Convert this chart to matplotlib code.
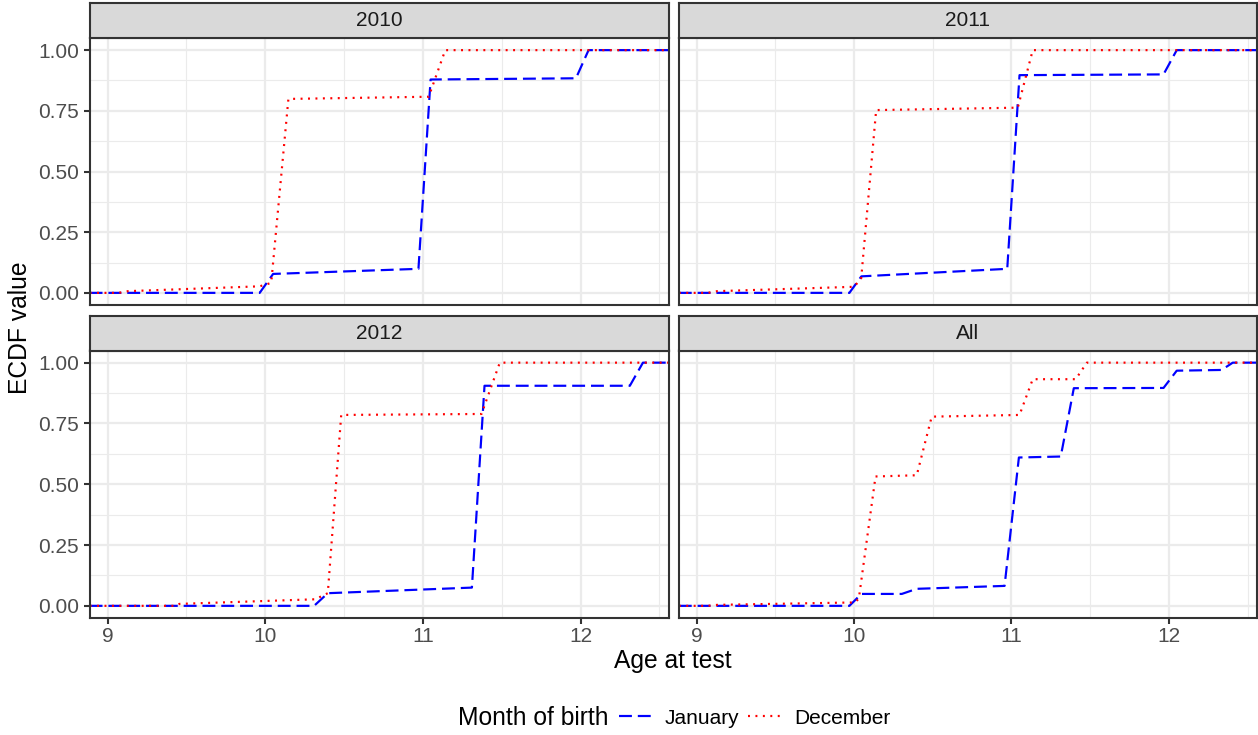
import matplotlib
matplotlib.use("Agg")
import matplotlib.pyplot as plt
from matplotlib.lines import Line2D
import numpy as np

# ---------------- data ----------------
panels = ["2010", "2011", "2012", "All"]
series_labels = ["January", "December"]

jan_x_2010 = [9.965, 10.050, 10.972, 11.049, 11.971, 12.051]
jan_y_2010 = [0.000, 0.078, 0.099, 0.879, 0.884, 1.000]
dec_x_2010 = [9.07, 9.13, 9.965, 10.038, 10.147, 11.037, 11.142]
dec_y_2010 = [0.000, 0.007, 0.027, 0.041, 0.799, 0.808, 1.000]

jan_x_2011 = [9.970, 10.046, 10.973, 11.051, 11.966, 12.050]
jan_y_2011 = [0.000, 0.068, 0.099, 0.897, 0.900, 1.000]
dec_x_2011 = [9.07, 9.13, 10.000, 10.045, 10.140, 11.040, 11.135]
dec_y_2011 = [0.000, 0.007, 0.025, 0.060, 0.753, 0.763, 1.000]

jan_x_2012 = [10.310, 10.397, 11.311, 11.391, 12.313, 12.396]
jan_y_2012 = [0.000, 0.052, 0.075, 0.905, 0.905, 1.000]
dec_x_2012 = [9.43, 9.456, 10.317, 10.397, 10.482, 11.372, 11.488]
dec_y_2012 = [0.000, 0.008, 0.027, 0.052, 0.785, 0.789, 1.000]

jan_x_all = [9.970, 10.046, 10.303, 10.398, 10.956, 11.047, 11.313, 11.396,
             11.966, 12.050, 12.335, 12.406]
jan_y_all = [0.000, 0.049, 0.049, 0.070, 0.082, 0.610, 0.614, 0.895,
             0.896, 0.967, 0.970, 1.000]
dec_x_all = [9.07, 9.13, 10.005, 10.030, 10.136, 10.398, 10.493, 11.051,
             11.135, 11.408, 11.479]
dec_y_all = [0.000, 0.004, 0.014, 0.030, 0.532, 0.537, 0.778, 0.785,
             0.932, 0.932, 1.000]

x_ticks = [9, 10, 11, 12]
y_ticks = [0.00, 0.25, 0.50, 0.75, 1.00]

data = {
    "2010": ((jan_x_2010, jan_y_2010), (dec_x_2010, dec_y_2010)),
    "2011": ((jan_x_2011, jan_y_2011), (dec_x_2011, dec_y_2011)),
    "2012": ((jan_x_2012, jan_y_2012), (dec_x_2012, dec_y_2012)),
    "All": ((jan_x_all, jan_y_all), (dec_x_all, dec_y_all)),
}

# ---------------- style ----------------
plt.rcParams["font.family"] = ["Liberation Sans", "DejaVu Sans"]
W, H, DPI = 1258, 735, 150
XLIM = (8.886, 12.56)
YLIM = (-0.05, 1.05)
colors = ["#0000FF", "#FF0000"]
LW = 1.05
styles = [(0, (5.9, 2.7)), (0, (0.9, 2.5))]
GRID = "#EBEBEB"
DARK = "#333333"
SMALL = 10.0
BIG = 11.8

fig = plt.figure(figsize=(W / DPI, H / DPI), dpi=DPI)


def px_axes(l, t, r, b):
    return fig.add_axes([l / W, 1 - b / H, (r - l) / W, (b - t) / H])


cols = [(89.6, 668.8), (678.8, 1257.0)]
rows = [((3, 38), (38, 305)), ((316, 350.5), (350.5, 618))]

for i, name in enumerate(panels):
    r, c = divmod(i, 2)
    (l, rr) = cols[c]
    (st, sb), (pt, pb) = rows[r]

    ax = px_axes(l, pt, rr, pb)
    ax.set_xlim(*XLIM)
    ax.set_ylim(*YLIM)
    ax.set_xticks(x_ticks)
    ax.set_xticks([9.5, 10.5, 11.5, 12.5], minor=True)
    ax.set_yticks(y_ticks)
    ax.set_yticks([0.125, 0.375, 0.625, 0.875], minor=True)
    ax.grid(which="major", color=GRID, lw=1.07, zorder=0)
    ax.grid(which="minor", color=GRID, lw=0.53, zorder=0)
    ax.set_axisbelow(True)
    for s in ax.spines.values():
        s.set_color(DARK)
        s.set_linewidth(1.0)
        s.set_zorder(5)
    ax.tick_params(which="minor", length=0)
    ax.tick_params(which="major", length=2.75, width=1.0,
                   color=DARK, labelcolor="#4D4D4D", labelsize=SMALL, pad=2.4)
    ax.tick_params(axis="x", pad=1.6)
    ax.yaxis.set_major_formatter(matplotlib.ticker.FormatStrFormatter("%.2f"))
    if c != 0:
        ax.tick_params(axis="y", left=False, labelleft=False)
    if r != 1:
        ax.tick_params(axis="x", bottom=False, labelbottom=False)

    for k, (xs, ys) in enumerate(data[name]):
        xx = np.concatenate([[XLIM[0]], xs, [XLIM[1]]])
        yy = np.concatenate([[0.0], ys, [1.0]])
        ax.plot(xx, yy, color=colors[k], lw=LW, linestyle=styles[k],
                dash_capstyle="butt", zorder=3 + k, clip_on=True)

    sax = px_axes(l, st, rr, sb)
    sax.set_facecolor("#D9D9D9")
    sax.set_xticks([])
    sax.set_yticks([])
    for s in sax.spines.values():
        s.set_color(DARK)
        s.set_linewidth(1.0)
    sax.text(0.5, 0.5, name, ha="center", va="center", fontsize=SMALL,
             color="#1A1A1A", transform=sax.transAxes)

fig.text((89.6 + 1257) / 2 / W, 1 - 661 / H, "Age at test", ha="center",
         va="center", fontsize=BIG, color="black")
fig.text(20 / W, 1 - 328 / H, "ECDF value", ha="center", va="center",
         rotation=90, fontsize=BIG, color="black")

fig.text(458 / W, 1 - 718 / H, "Month of birth", ha="left", va="center",
         fontsize=BIG, color="black")
handles = [Line2D([], [], color=colors[k], lw=LW, linestyle=styles[k],
                  dash_capstyle="butt") for k in range(2)]
fig.legend(handles, series_labels, loc="center left",
           bbox_to_anchor=(619 / W, 1 - 718 / H), ncol=2, frameon=False,
           fontsize=SMALL, handlelength=1.73, handletextpad=0.48,
           columnspacing=0.40, borderaxespad=0, borderpad=0)

fig.savefig("out.png", dpi=DPI)
